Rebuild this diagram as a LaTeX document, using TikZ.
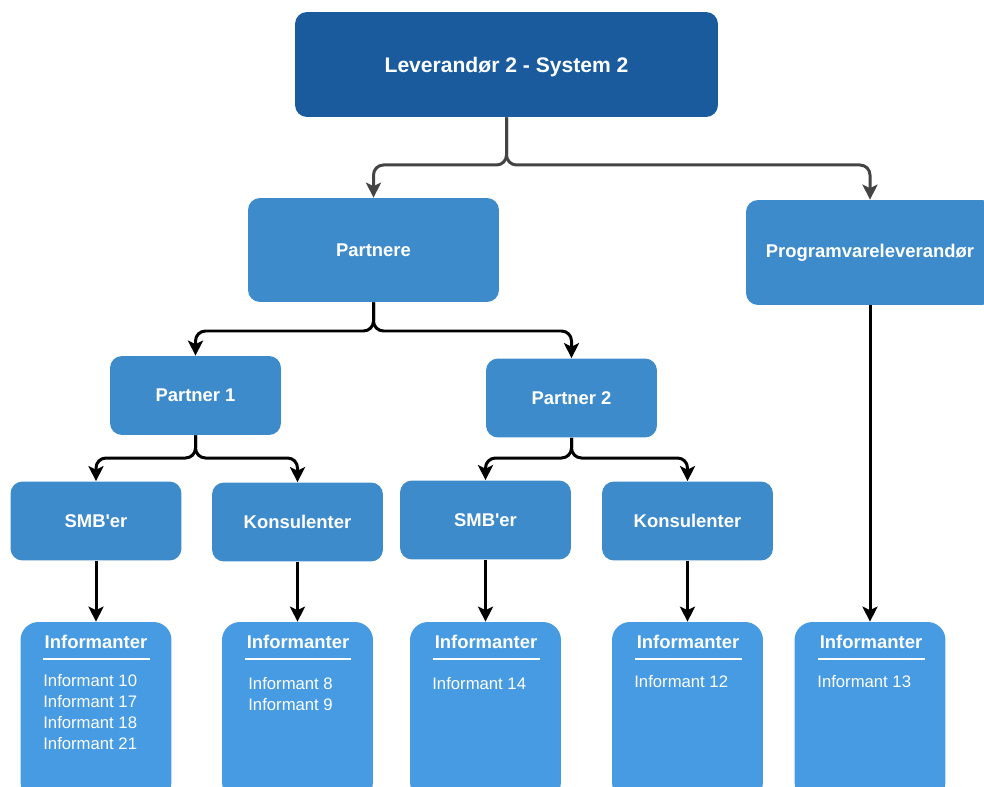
\documentclass[tikz,border=0pt]{standalone}
\usepackage{fontspec}
\setmainfont{Liberation Sans}
\usetikzlibrary{arrows.meta, positioning}
\definecolor{topblue}{RGB}{26,91,158}
\definecolor{midblue}{RGB}{62,139,204}
\definecolor{infoblue}{RGB}{71,155,227}
\definecolor{linegray}{RGB}{68,68,68}

\begin{document}
\begin{tikzpicture}[x=0.02cm, y=-0.02cm,
    every node/.style={text=white, inner sep=0pt},
    box/.style={fill=midblue, rounded corners=0.24cm,
                font=\bfseries\fontsize{10.5}{12}\selectfont},
    topbox/.style={box, fill=topblue, font=\bfseries\fontsize{12}{14}\selectfont,
                text depth=0pt, minimum width=8.46cm, minimum height=2.1cm},
    bigbox/.style={box, minimum width=5.02cm, minimum height=2.08cm},
    smallbox/.style={box, minimum width=3.42cm, minimum height=1.58cm},
    infobox/.style={fill=infoblue, rounded corners=0.36cm,
                minimum width=3.02cm, minimum height=3.56cm},
    infohead/.style={font=\bfseries\fontsize{10.5}{12}\selectfont},
    infolist/.style={anchor=north west, align=left,
                font=\fontsize{9.5}{11.95}\selectfont},
    infoline/.style={draw=white, line width=0.045cm},
    conn/.style={draw=black, line width=0.06cm, rounded corners=0.2cm,
                -{Stealth[length=0.3cm, width=0.3cm, inset=0.07cm]}},
    conntop/.style={conn, draw=linegray}
  ]
  \useasboundingbox (0,0) rectangle (984,787);

  % top level
  \node[topbox] (lev) at (506.5,64.5) {Leverandør 2 - System 2};

  \node[bigbox] (partnere) at (373.5,250) {Partnere};
  \node[bigbox, minimum width=4.96cm, minimum height=2.1cm] (prog) at (870,252.5) {Programvareleverandør};

  % partners
  \node[smallbox] (p1) at (195.5,395.5) {Partner 1};
  \node[smallbox] (p2) at (571.5,398) {Partner 2};

  \node[smallbox] (smb1) at (96,521) {SMB\textquotesingle er};
  \node[smallbox] (kon1) at (297.5,522) {Konsulenter};
  \node[smallbox] (smb2) at (485.5,520) {SMB\textquotesingle er};
  \node[smallbox] (kon2) at (687.5,521) {Konsulenter};

  % informants
  \node[infobox] (info1) at (96,711) {};
  \node[infobox] (info2) at (297.5,711) {};
  \node[infobox] (info3) at (485.5,711) {};
  \node[infobox] (info4) at (687.5,711) {};
  \node[infobox] (info5) at (870,711) {};

  \node[infohead] (head1) at (96,642) {Informanter};
  \node[infohead] (head2) at (298,642) {Informanter};
  \node[infohead] (head3) at (486,642) {Informanter};
  \node[infohead] (head4) at (688,642) {Informanter};
  \node[infohead] (head5) at (871,642) {Informanter};

  \draw[infoline] (43,659) -- (150,659);
  \draw[infoline] (245,659) -- (351,659);
  \draw[infoline] (433,659) -- (540,659);
  \draw[infoline] (635,659) -- (742,659);
  \draw[infoline] (818,659) -- (925,659);

  \node[infolist] (list1) at (43,674) {Informant 10\\Informant 17\\Informant 18\\Informant 21};
  \node[infolist] (list2) at (248,677) {Informant 8\\Informant 9};
  \node[infolist] (list3) at (432,677) {Informant 14};
  \node[infolist] (list4) at (634,675) {Informant 12};
  \node[infolist] (list5) at (817,675) {Informant 13};

  % connectors
  \coordinate (j0) at (506.5,165);
  \coordinate (j1) at (373.5,331);
  \coordinate (j2) at (195.5,458);
  \coordinate (j3) at (571.5,458);

  \draw[conntop] (lev.south) -- (j0) -| (partnere.north);
  \draw[conntop] (lev.south) -- (j0) -| (prog.north);

  \draw[conn] (partnere.south) -- (j1) -| (p1.north);
  \draw[conn] (partnere.south) -- (j1) -| (p2.north);

  \draw[conn] (p1.south) -- (j2) -| (smb1.north);
  \draw[conn] (p1.south) -- (j2) -| (kon1.north);
  \draw[conn] (p2.south) -- (j3) -| (smb2.north);
  \draw[conn] (p2.south) -- (j3) -| (kon2.north);

  \draw[conn] (smb1.south) -- (smb1.south |- info1.north);
  \draw[conn] (kon1.south) -- (kon1.south |- info2.north);
  \draw[conn] (smb2.south) -- (smb2.south |- info3.north);
  \draw[conn] (kon2.south) -- (kon2.south |- info4.north);
  \draw[conn] (prog.south) -- (prog.south |- info5.north);
\end{tikzpicture}
\end{document}
